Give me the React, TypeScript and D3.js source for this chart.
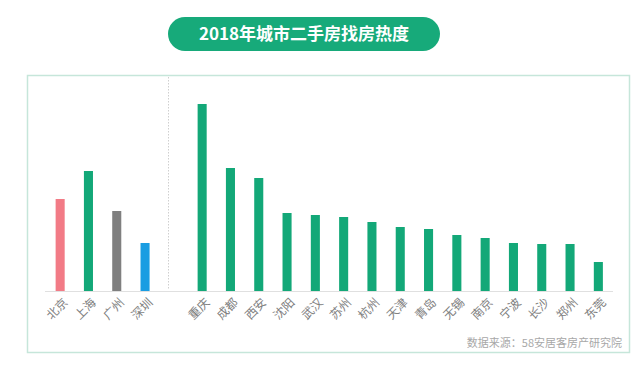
import React, { useEffect, useRef } from "react";
import * as d3 from "d3";

const tier1Cities = ["北京", "上海", "广州", "深圳"];
const tier1Values = [92, 120, 80, 48];
const tier1Colors = ["#f27b86", "#13a878", "#7f7f7f", "#1a9de2"];

const otherCities = ["重庆", "成都", "西安", "沈阳", "武汉", "苏州", "杭州", "天津", "青岛", "无锡", "南京", "宁波", "长沙", "郑州", "东莞"];
const otherValues = [187, 123, 113, 78, 76, 74, 69, 64, 62, 56, 53, 48, 47, 47, 29];

const title = "2018年城市二手房找房热度";
const source = "数据来源：58安居客房产研究院";

const FONT = "'Noto Sans CJK SC', 'Noto Sans', sans-serif";

export default function App() {
  const ref = useRef<SVGSVGElement>(null);

  useEffect(() => {
    const svg = d3.select(ref.current);
    svg.selectAll("*").remove();

    const baseY = 291;
    const y = d3.scaleLinear().domain([0, 187]).range([baseY, 104]);

    const xLeft = d3.scaleBand().domain(tier1Cities).range([46, 159.2]).paddingInner(0.68).paddingOuter(0.34);
    const xRight = d3.scaleBand().domain(otherCities).range([188, 612.5]).paddingInner(0.68).paddingOuter(0.34);

    // frame
    svg.append("rect")
      .attr("x", 27.5).attr("y", 75.5).attr("width", 602).attr("height", 277)
      .attr("fill", "#fff").attr("stroke", "#c6e6da").attr("stroke-width", 1.5);

    // title pill
    svg.append("rect")
      .attr("x", 168).attr("y", 17).attr("width", 272).attr("height", 34)
      .attr("rx", 17).attr("fill", "#17aa7a");
    svg.append("text")
      .attr("x", 304).attr("y", 40)
      .attr("text-anchor", "middle")
      .attr("font-family", FONT).attr("font-size", 17).attr("font-weight", "bold")
      .attr("fill", "#fff")
      .text(title);

    // separator
    svg.append("line")
      .attr("x1", 168.5).attr("x2", 168.5).attr("y1", 77).attr("y2", 290)
      .attr("stroke", "#cfcfcf").attr("stroke-dasharray", "1.5,1.5");

    // baseline
    svg.append("line")
      .attr("x1", 45).attr("x2", 613).attr("y1", baseY + 0.5).attr("y2", baseY + 0.5)
      .attr("stroke", "#e0e0e0");

    const drawGroup = (cities: string[], values: number[], x: d3.ScaleBand<string>, colors: (i: number) => string) => {
      const g = svg.append("g");
      g.selectAll("rect.bar").data(cities).enter().append("rect")
        .attr("class", "bar")
        .attr("x", (d) => x(d)!)
        .attr("width", x.bandwidth())
        .attr("y", (d, i) => y(values[i]))
        .attr("height", (d, i) => baseY - y(values[i]))
        .attr("fill", (d, i) => colors(i));

      g.selectAll("text.lbl").data(cities).enter().append("text")
        .attr("class", "lbl")
        .attr("text-anchor", "end")
        .attr("font-family", FONT).attr("font-size", 12)
        .attr("fill", "#808080")
        .attr("transform", (d) => `translate(${x(d)! + x.bandwidth() / 2 + 2},${baseY + 6}) rotate(-45)`)
        .attr("dy", "0.75em")
        .text((d) => d);
    };

    drawGroup(tier1Cities, tier1Values, xLeft, (i) => tier1Colors[i]);
    drawGroup(otherCities, otherValues, xRight, () => "#13a878");

    svg.append("text")
      .attr("x", 622).attr("y", 347)
      .attr("text-anchor", "end")
      .attr("font-family", FONT).attr("font-size", 11)
      .attr("fill", "#a8a8a8")
      .text(source);
  }, []);

  return (
    <svg ref={ref} width={640} height={366}
      style={{ position: "absolute", left: 0, top: 0, background: "#fff" }} />
  );
}
